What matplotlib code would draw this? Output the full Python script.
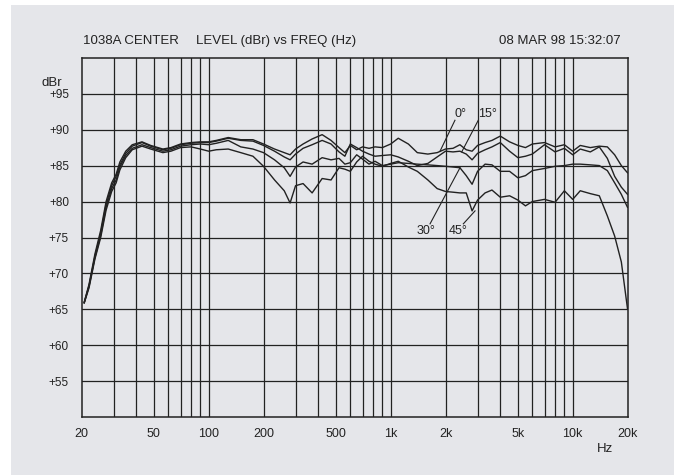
import numpy as np
import matplotlib
matplotlib.use("Agg")
import matplotlib.pyplot as plt
from matplotlib.patches import Rectangle

plt.rcParams['font.family'] = ['Liberation Sans', 'DejaVu Sans']

# frequency points (Hz) and level (dBr)
freq = [20.7, 22, 23.7, 25.5, 27.3, 29.3, 31, 32.5, 35, 38, 43, 48, 56, 62, 70, 80, 90, 100,
        110, 128, 150, 175, 200, 230, 260, 280, 300, 330, 370, 420, 470,
        520, 560, 600, 650, 700, 760, 820, 900, 1000, 1100, 1250, 1400, 1600, 1800, 2000,
        2200, 2400, 2600, 2800, 3000, 3300, 3600, 4000, 4500, 5000, 5500, 6000, 7000, 8000,
        9000, 10000, 11000, 12500, 14000, 15500, 17000, 18500, 20000]

lvl_0 = [66.0, 68.5, 72.7, 76.0, 80.0, 82.6, 83.8, 85.5, 87.0, 87.9, 88.3, 87.8, 87.3, 87.5, 88.0, 88.2, 88.3, 88.3,
         88.5, 88.9, 88.6, 88.6, 88.0, 87.3, 86.8, 86.5, 87.3, 88.0, 88.7, 89.3, 88.5,
         87.5, 86.8, 87.8, 87.2, 87.6, 87.4, 87.6, 87.5, 88.0, 88.8, 88.0, 86.8, 86.6, 86.8, 87.3,
         87.4, 87.9, 87.2, 87.0, 87.8, 88.2, 88.5, 89.1, 88.3, 87.8, 87.5, 88.0, 88.2, 87.6,
         87.9, 87.0, 87.8, 87.5, 87.7, 87.6, 86.5, 85.0, 84.0]

lvl_15 = [66.0, 68.3, 72.4, 75.6, 79.6, 82.2, 83.5, 85.1, 86.7, 87.7, 88.2, 87.7, 87.2, 87.4, 87.9, 88.1, 88.2, 88.2,
          88.4, 88.8, 88.5, 88.4, 87.8, 87.0, 86.2, 85.8, 86.6, 87.4, 87.9, 88.5, 88.0,
          86.9, 86.3, 88.0, 87.5, 87.0, 86.6, 86.3, 86.4, 86.5, 86.2, 85.6, 85.0, 85.3, 86.2, 87.0,
          86.9, 87.0, 86.6, 85.8, 86.7, 87.2, 87.6, 88.2, 87.0, 86.1, 86.3, 86.6, 87.9, 86.9,
          87.4, 86.5, 87.3, 86.9, 87.6, 86.0, 83.5, 82.0, 81.0]

lvl_30 = [65.9, 68.2, 72.2, 75.3, 79.2, 81.8, 83.0, 84.8, 86.4, 87.4, 87.9, 87.5, 87.0, 87.2, 87.7, 87.9, 88.0, 87.9,
          88.1, 88.5, 87.6, 87.3, 86.8, 85.8, 84.7, 83.5, 84.8, 85.5, 85.2, 86.1, 85.8,
          86.0, 85.2, 85.4, 86.5, 85.9, 85.2, 85.6, 85.0, 85.2, 85.4, 85.3, 85.2, 85.1, 85.0, 84.9,
          84.8, 84.7, 83.6, 82.4, 84.2, 85.2, 85.1, 84.2, 84.2, 83.3, 83.6, 84.3, 84.6, 84.9,
          85.0, 85.2, 85.2, 85.1, 85.0, 84.3, 82.6, 81.0, 79.2]

lvl_45 = [65.9, 68.0, 72.0, 75.0, 78.8, 81.4, 82.6, 84.4, 86.1, 87.2, 87.7, 87.3, 86.8, 87.0, 87.5, 87.6, 87.3, 87.0,
          87.2, 87.3, 86.8, 86.3, 84.9, 83.0, 81.5, 79.8, 82.2, 82.5, 81.2, 83.2, 83.0,
          84.7, 84.5, 84.2, 85.5, 86.3, 85.6, 85.2, 84.9, 85.3, 85.6, 84.8, 84.2, 83.0, 81.8, 81.4,
          81.3, 81.2, 81.2, 78.7, 80.2, 81.2, 81.6, 80.6, 80.8, 80.2, 79.4, 80.0, 80.3, 79.9,
          81.5, 80.3, 81.5, 81.1, 80.8, 78.0, 75.2, 71.6, 65.1]

x_ticks = [20, 50, 100, 200, 500, 1000, 2000, 5000, 10000, 20000]
x_labels = ['20', '50', '100', '200', '500', '1k', '2k', '5k', '10k', '20k']
y_ticks = [55, 60, 65, 70, 75, 80, 85, 90, 95]
y_labels = ['+55', '+60', '+65', '+70', '+75', '+80', '+85', '+90', '+95']

bg = '#e5e6ea'
ink = '#222222'

fig = plt.figure(figsize=(6.74, 4.75), dpi=100, facecolor='white')
fig.patches.append(Rectangle((11 / 674, 0), 1, 1 - 5 / 475, transform=fig.transFigure,
                             facecolor=bg, edgecolor='none', zorder=-1))
ax = fig.add_axes([81.5 / 674, 1 - 417.3 / 475, 546 / 674, 359.6 / 475])
ax.set_facecolor(bg)
ax.set_xscale('log')
ax.set_xlim(20, 20000)
ax.set_ylim(50, 100)

# grid: every decade step, every 5 dB
vgrid = list(range(30, 100, 10)) + list(range(100, 1000, 100)) + list(range(1000, 10001, 1000))
for v in vgrid:
    ax.axvline(v, color=ink, lw=0.9, zorder=1)
for h in y_ticks:
    ax.axhline(h, color=ink, lw=0.9, zorder=1)
for s in ax.spines.values():
    s.set_color(ink)
    s.set_linewidth(1.1)

for lv in (lvl_0, lvl_15, lvl_30, lvl_45):
    ax.plot(freq, lv, color=ink, lw=1.0, zorder=3)

ax.minorticks_off()
ax.set_xticks(x_ticks)
ax.set_xticklabels(x_labels)
ax.set_yticks(y_ticks)
ax.set_yticklabels(y_labels)
ax.tick_params(length=0, labelsize=9, colors=ink)
ax.tick_params(axis='x', pad=8)
ax.tick_params(axis='y', pad=9, labelsize=8.5)

# curve labels with leader lines
labels = [('0°', 2403, 92.2, (2254, 91.3), (1866, 87.0)),
          ('15°', 3394, 92.2, (3028, 91.3), (2455, 86.9)),
          ('30°', 1557, 75.9, (1645, 76.9), (2403, 84.7)),
          ('45°', 2334, 75.9, (2506, 76.9), (2906, 78.7))]
for txt, tx, ty, p0, p1 in labels:
    ax.text(tx, ty, txt, ha='center', va='center', fontsize=9, color=ink, zorder=4)
    ax.plot([p0[0], p1[0]], [p0[1], p1[1]], color=ink, lw=0.8, zorder=4)

fig.text(83 / 674, 1 - 41 / 475, '1038A CENTER', ha='left', va='center', fontsize=9.5, color=ink)
fig.text(196 / 674, 1 - 41 / 475, 'LEVEL (dBr) vs FREQ (Hz)', ha='left', va='center', fontsize=9.5, color=ink)
fig.text(621 / 674, 1 - 41 / 475, '08 MAR 98 15:32:07', ha='right', va='center', fontsize=9.5, color=ink)
fig.text(52 / 674, 1 - 83 / 475, 'dBr', ha='center', va='center', fontsize=9.5, color=ink)
fig.text(605 / 674, 1 - 448.5 / 475, 'Hz', ha='center', va='center', fontsize=9.5, color=ink)

fig.savefig('out.png', dpi=100, facecolor=fig.get_facecolor())
